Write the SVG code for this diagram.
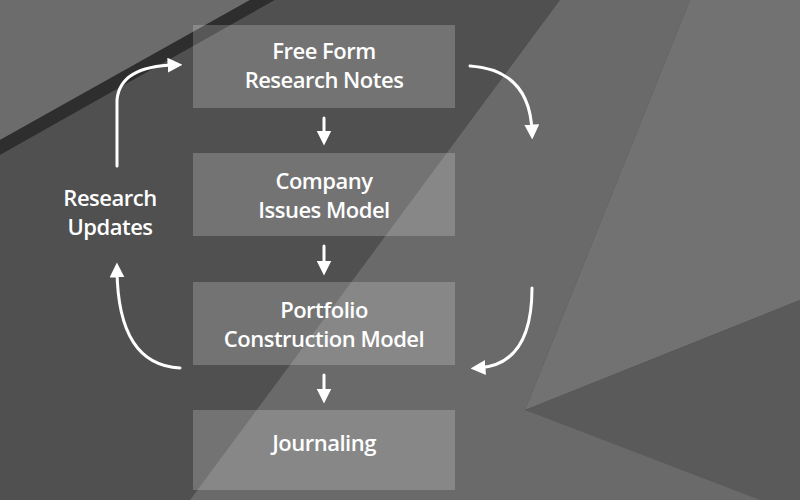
<svg xmlns="http://www.w3.org/2000/svg" width="800" height="500" viewBox="0 0 800 500">
<defs>
<style>
.box{fill:#ffffff;fill-opacity:0.2}
.t{font-family:"Open Sans","Liberation Sans",sans-serif;font-size:22px;font-weight:600;fill:#fff;text-anchor:middle;letter-spacing:-0.5px}
.c{fill:none;stroke:#fff;stroke-width:3;stroke-linecap:round}
</style>
<marker id="ah" viewBox="0 0 10 10" refX="5" refY="5" markerWidth="5" markerHeight="5" orient="auto-start-reverse"><path d="M0,0 L10,5 L0,10 z" fill="#fff"/></marker>
</defs>
<rect width="800" height="500" fill="#4a4a4a"/>
<polygon points="0,0 250,0 0,140" fill="#6c6c6c"/>
<polygon points="0,140 250,0 275,0 0,155" fill="#2e2e2e"/>
<polygon points="0,155 275,0 560,0 190,500 0,500" fill="#505050"/>
<polygon points="560,0 690,0 525,410 800,500 190,500" fill="#6a6a6a"/>
<polygon points="690,0 800,0 800,300 525,410" fill="#727272"/>
<polygon points="525,410 800,300 800,500 760,500" fill="#5a5a5a"/>
<g id="n1"><rect class="box" x="193" y="25" width="262" height="83"/><text class="t" x="324" y="59">Free Form</text><text class="t" x="324" y="88">Research Notes</text></g>
<g id="n2"><rect class="box" x="193" y="153" width="262" height="83"/><text class="t" x="324" y="189">Company</text><text class="t" x="324" y="218">Issues Model</text></g>
<g id="n3"><rect class="box" x="193" y="282" width="262" height="83"/><text class="t" x="324" y="318">Portfolio</text><text class="t" x="324" y="347">Construction Model</text></g>
<g id="n4"><rect class="box" x="193" y="410" width="262" height="80"/><text class="t" x="324" y="451">Journaling</text></g>
<g id="lbl"><text class="t" x="110" y="206">Research</text><text class="t" x="110" y="235">Updates</text></g>
<g id="connectors">
<path class="c" d="M324,118 V138" marker-end="url(#ah)"/>
<path class="c" d="M324,246 V268" marker-end="url(#ah)"/>
<path class="c" d="M324,375 V396" marker-end="url(#ah)"/>
<path class="c" d="M470,66 Q530,70 532,132" marker-end="url(#ah)"/>
<path class="c" d="M532,288 Q532,365 478,368" marker-end="url(#ah)"/>
<path class="c" d="M180,368 Q118,365 117,270" marker-end="url(#ah)"/>
<path class="c" d="M117,166 V100 Q120,66 175,65" marker-end="url(#ah)"/>
</g>
</svg>
